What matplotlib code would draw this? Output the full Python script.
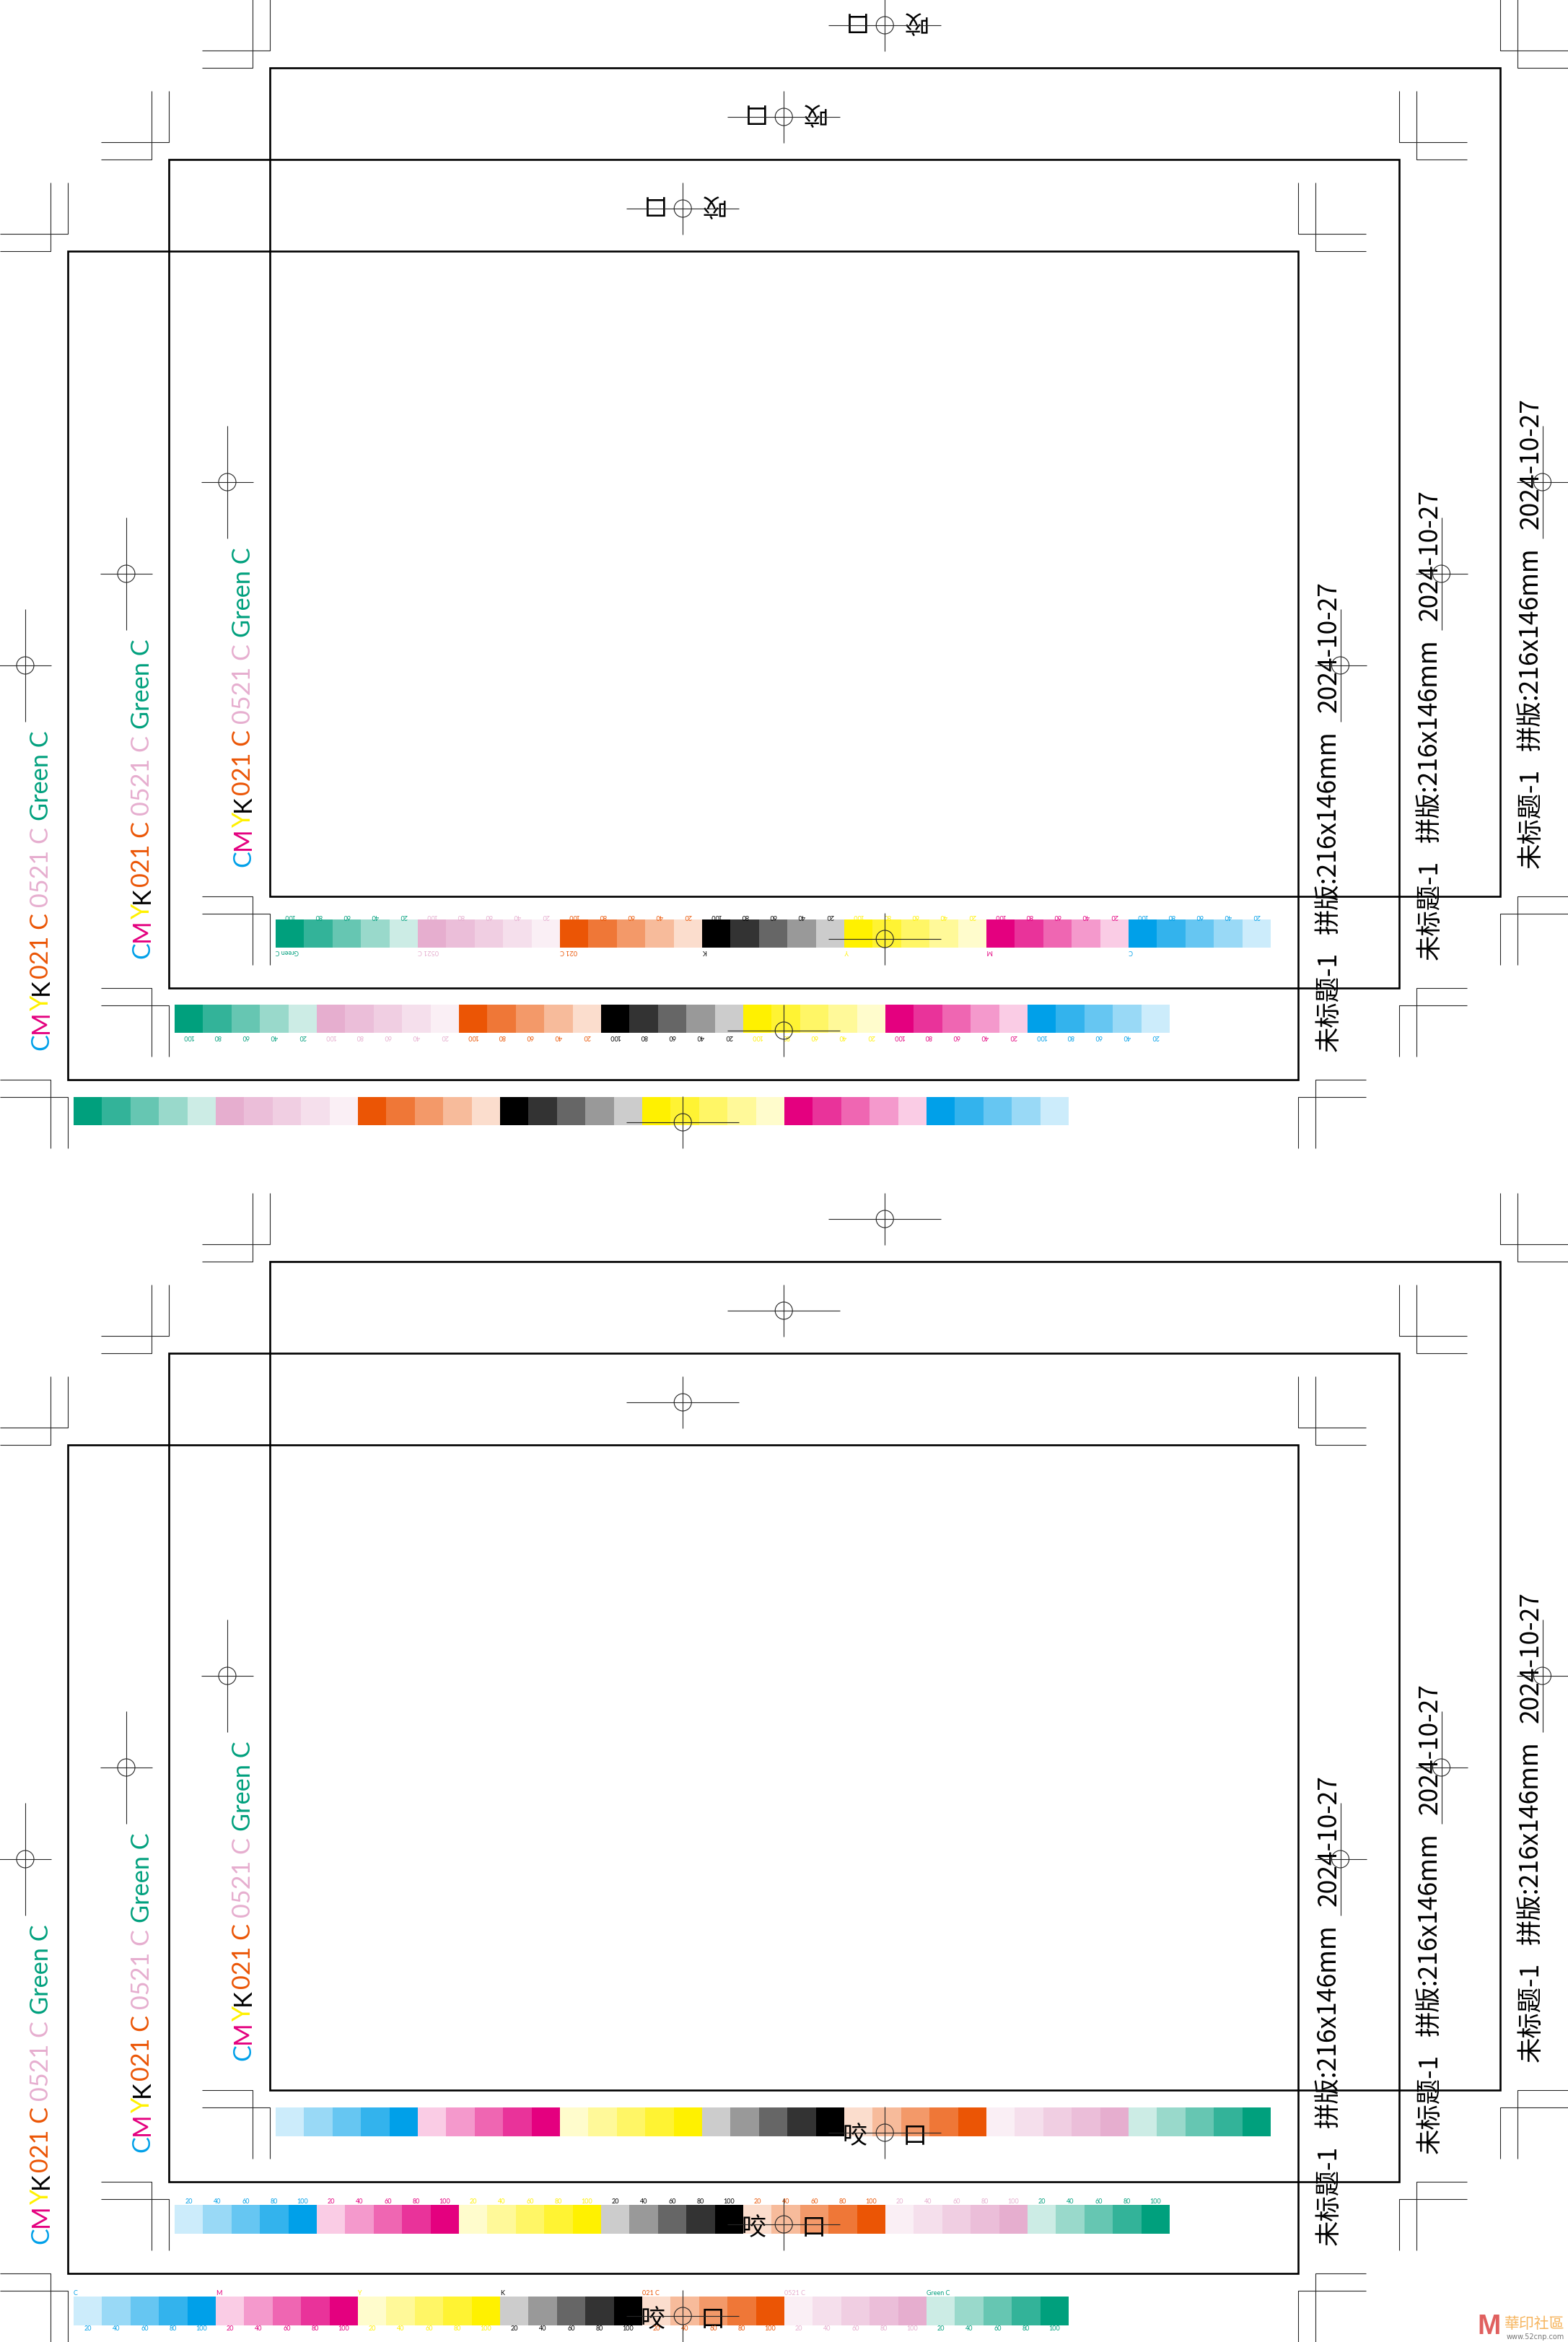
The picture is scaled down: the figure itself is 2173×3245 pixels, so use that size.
import matplotlib
matplotlib.use("Agg")
import matplotlib.pyplot as plt
from matplotlib.patches import Rectangle, Circle

W, H = 2173, 3245

# ---- data ----
TINT_LABELS = ["100", "80", "60", "40", "20"]
GROUP_NAMES = ["Green C", "0521 C", "021 C", "K", "Y", "M", "C"]
GREEN_TINTS = ["#00A07D", "#33B399", "#66C6B2", "#99D9CB", "#CCECE5"]
PINK_TINTS = ["#E6AECF", "#EBBED9", "#F0CEE2", "#F5DFEC", "#FAEFF5"]
ORANGE_TINTS = ["#EB5505", "#EF7737", "#F39969", "#F7BB9B", "#FBDDCD"]
BLACK_TINTS = ["#000000", "#333333", "#666666", "#999999", "#CCCCCC"]
YELLOW_TINTS = ["#FFF100", "#FFF333", "#FFF666", "#FFF999", "#FFFCCC"]
MAGENTA_TINTS = ["#E4007F", "#E9339A", "#EF66B2", "#F499CC", "#FACCE5"]
CYAN_TINTS = ["#00A0E9", "#33B3ED", "#66C6F2", "#99D9F6", "#CCECFB"]
GROUP_COLORS = [GREEN_TINTS, PINK_TINTS, ORANGE_TINTS, BLACK_TINTS,
                YELLOW_TINTS, MAGENTA_TINTS, CYAN_TINTS]
LABEL_COLORS = ["#00A07D", "#E6AECF", "#EB5505", "#000000",
                "#FFF100", "#E4007F", "#00A0E9"]
SIDE_RUNS = ["C", "M", "Y", "K", "021 C ", "0521 C ", "Green C"]
SIDE_COLORS = ["#00A0E9", "#E4007F", "#FFF100", "#000000", "#EB5505", "#E6AECF", "#00A07D"]
INFO_TEXTS = ["未标题-1", "拼版:216x146mm", "2024-10-27"]
BITE_LEFT, BITE_RIGHT = "咬", "口"
# ----------------

SIDE_FONT = "Lato"
NARROW = "Lato"
CJK = "Noto Sans CJK SC"

fig = plt.figure(figsize=(W / 100, H / 100), dpi=100, facecolor="white")
ax = fig.add_axes([0, 0, 1, 1])
ax.set_xlim(0, W)
ax.set_ylim(H, 0)
ax.axis("off")
renderer = fig.canvas.get_renderer()

THIN = dict(color="#262626", lw=0.8, zorder=4, solid_capstyle="butt")


def cross(cx, cy, hx, hy):
    ax.plot([cx - hx, cx + hx], [cy, cy], **THIN)
    ax.plot([cx, cx], [cy - hy, cy + hy], **THIN)
    ax.add_patch(Circle((cx, cy), 12, fill=False, ec="#262626", lw=0.8, zorder=4))


def corner(x, y, sx, sy):
    """x,y frame corner; sx,sy point outwards."""
    ax.plot([x + sx * 94, x + sx * 24, x + sx * 24], [y, y, y + sy * 95], **THIN)
    ax.plot([x + sx * 94, x, x], [y + sy * 24, y + sy * 24, y + sy * 95], **THIN)


def text_len(s, **kw):
    t = ax.text(0, 0, s + "x", **kw)
    a = t.get_window_extent(renderer).width
    t.set_text("x")
    b = t.get_window_extent(renderer).width
    t.remove()
    return a - b


def side_text(x, y):
    kw = dict(family=SIDE_FONT, fontsize=24.7)
    pos = y
    for run, col in zip(SIDE_RUNS, SIDE_COLORS):
        ax.text(x, pos, run, color=col, rotation=90, rotation_mode="anchor",
                ha="left", va="baseline", zorder=3, **kw)
        pos -= text_len(run, **kw)


def strip(x0, y0, reverse, labels=None, show_names=False):
    sw, sh = 39.4, 39.5
    rot = 180 if not reverse else 0
    groups = list(zip(GROUP_NAMES, GROUP_COLORS, LABEL_COLORS))
    if reverse:
        groups = groups[::-1]
    i = 0
    for name, tints, lc in groups:
        seq = list(zip(TINT_LABELS, tints))
        if reverse:
            seq = seq[::-1]
        if show_names:
            ny = y0 - 5 if reverse else y0 + sh + 5
            ax.text(x0 + i * sw, ny, name, color=lc, family=NARROW, fontsize=6.5, rotation=rot,
                    ha="left", va="center", zorder=3)
        for lab, col in seq:
            ax.add_patch(Rectangle((x0 + i * sw, y0), sw + 0.3, sh, fc=col, ec="none", zorder=1))
            if labels is not None:
                ly = y0 - 5 if labels == "above" else y0 + sh + 5
                ax.text(x0 + (i + 0.5) * sw, ly, lab, color=lc, family=NARROW, fontsize=6.5,
                        rotation=rot, ha="center", va="center", zorder=3)
            i += 1


def sheet(dy, reverse):
    L0, R0, T0, B0 = 94, 1798.5, 348, 1496
    for k in range(3):
        dxk, dyk = 140 * k, -127 * k + dy
        L, R, T, B = L0 + dxk, R0 + dxk, T0 + dyk, B0 + dyk
        ax.add_patch(Rectangle((L, T), R - L, B - T, fill=False, ec="black", lw=1.9,
                               zorder=2, joinstyle="miter"))
        for x, sx in ((L, -1), (R, 1)):
            for y, sy in ((T, -1), (B, 1)):
                corner(x, y, sx, sy)
        cx, cy = (L + R) / 2, (T + B) / 2
        cross(cx, T - 59, 78, 36)
        cross(cx, B + 59, 78, 36)
        cross(L - 59, cy, 36, 78)
        cross(R + 59, cy, 36, 78)

        side_text(L - 27, B - 41)

        for s, off in zip(INFO_TEXTS, (39, 202, 509)):
            ax.text(R + 53, B - off, s, family=[CJK, "DejaVu Sans"], fontsize=25.5, color="black",
                    rotation=90, rotation_mode="anchor", ha="left", va="baseline", zorder=3)

        if not reverse:
            ax.text(cx + 40, T - 59 - 6, BITE_LEFT, family=CJK, fontsize=24.5, rotation=180,
                    ha="center", va="center", zorder=3)
            ax.text(cx - 46, T - 59 - 6, BITE_RIGHT, family=CJK, fontsize=24.5, rotation=180,
                    ha="center", va="center", zorder=3)
            lab, nm, off = [(None, False, 24), ("below", False, 23), ("above", True, 32)][k]
        else:
            ax.text(cx - 42, B + 59 + 5, BITE_LEFT, family=CJK, fontsize=24.5,
                    ha="center", va="center", zorder=3)
            ax.text(cx + 41, B + 59 + 5, BITE_RIGHT, family=CJK, fontsize=24.5,
                    ha="center", va="center", zorder=3)
            lab, nm, off = [("below", True, 32), ("above", False, 32), (None, False, 24)][k]
        strip(L + 8, B + off, reverse, lab, nm)


sheet(0, False)
sheet(1654, True)

# source watermark
ax.text(2064, 3224, "M", family="Liberation Sans", fontweight="bold", fontsize=28, color="#E0605F",
        ha="center", va="center", zorder=5)
ax.text(2127, 3220, "華印社區", family="Noto Sans CJK TC", fontsize=15, color="#F6B55F",
        ha="center", va="center", zorder=5)
ax.text(2128, 3238, "www.52cnp.com", family="DejaVu Sans", fontsize=7, color="#777777",
        ha="center", va="center", zorder=5)

fig.savefig("out.png", dpi=100, facecolor="white")
